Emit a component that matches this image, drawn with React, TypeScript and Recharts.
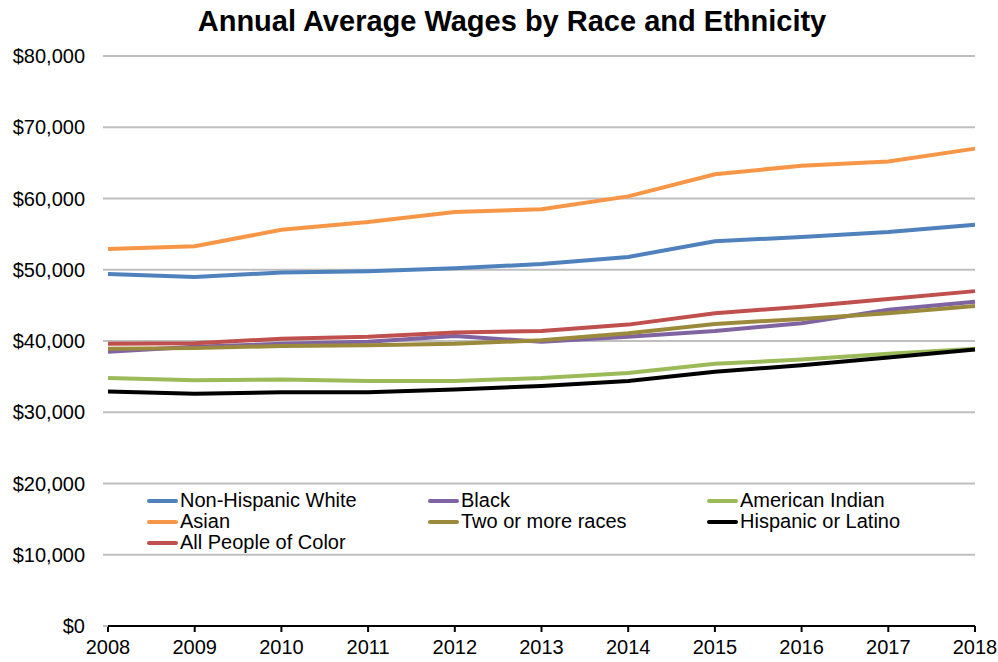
import { LineChart, Line, XAxis, YAxis, CartesianGrid } from 'recharts';

const years = [2008, 2009, 2010, 2011, 2012, 2013, 2014, 2015, 2016, 2017, 2018];

const nonHispanicWhite = [49400, 49000, 49600, 49800, 50200, 50800, 51800, 54000, 54600, 55300, 56300];
const black = [38500, 39200, 39600, 39900, 40700, 39900, 40600, 41400, 42500, 44400, 45500];
const americanIndian = [34800, 34500, 34600, 34400, 34400, 34800, 35500, 36800, 37400, 38200, 38900];
const asian = [52900, 53300, 55600, 56700, 58100, 58500, 60300, 63400, 64600, 65200, 67000];
const twoOrMore = [38900, 39000, 39300, 39400, 39600, 40100, 41100, 42400, 43100, 43900, 44900];
const hispanic = [32900, 32600, 32800, 32800, 33200, 33700, 34400, 35700, 36600, 37700, 38800];
const allPeopleOfColor = [39600, 39700, 40300, 40600, 41200, 41400, 42300, 43900, 44800, 45900, 47000];

const yTicks = [0, 10000, 20000, 30000, 40000, 50000, 60000, 70000, 80000];

const series = [
    { key: 'nhw', name: 'Non-Hispanic White', color: '#4F81BD', values: nonHispanicWhite },
    { key: 'black', name: 'Black', color: '#8064A2', values: black },
    { key: 'amind', name: 'American Indian', color: '#9BBB59', values: americanIndian },
    { key: 'asian', name: 'Asian', color: '#F79646', values: asian },
    { key: 'two', name: 'Two or more races', color: '#9C8A3C', values: twoOrMore },
    { key: 'hisp', name: 'Hispanic or Latino', color: '#000000', values: hispanic },
    { key: 'poc', name: 'All People of Color', color: '#C0504D', values: allPeopleOfColor },
];

const chartData = years.map((year, i) => {
    const row: any = { year };
    series.forEach((s) => {
        row[s.key] = s.values[i];
    });
    return row;
});

const FONT = '"Liberation Sans", Arial, sans-serif';

const formatDollar = (v: number) => (v === 0 ? '$0' : `$${v.toLocaleString('en-US')}`);

// legend sits inside the plot area, 3 columns like the Excel original
function ChartLegend() {
    const colWidths = [281, 279, 260];
    return (
        <div
            style={{
                position: 'absolute',
                top: 490,
                left: 147,
                display: 'grid',
                gridTemplateColumns: colWidths.map((w) => `${w}px`).join(' '),
                fontFamily: FONT,
                fontSize: 20,
                color: '#000',
            }}
        >
            {series.map((s) => (
                <div key={s.key} style={{ display: 'flex', alignItems: 'center', height: 21, whiteSpace: 'nowrap' }}>
                    <span
                        style={{
                            display: 'inline-block',
                            flexShrink: 0,
                            width: 31,
                            height: 4,
                            background: s.color,
                            borderRadius: 2,
                            marginRight: 2,
                        }}
                    />
                    <span>{s.name}</span>
                </div>
            ))}
        </div>
    );
}

export default function App() {
    return (
        <div style={{ position: 'absolute', left: 0, top: 0, width: 998, height: 662, background: '#fff' }}>
            <div
                style={{
                    position: 'absolute',
                    top: 5,
                    left: 0,
                    width: 1024,
                    textAlign: 'center',
                    fontFamily: FONT,
                    fontWeight: 'bold',
                    fontSize: 29,
                    color: '#000',
                }}
            >
                Annual Average Wages by Race and Ethnicity
            </div>
            <LineChart width={998} height={662} data={chartData} margin={{ top: 56, right: 23, bottom: 0, left: 0 }}>
                <CartesianGrid vertical={false} stroke="#BFBFBF" strokeWidth={2} />
                <XAxis
                    dataKey="year"
                    type="number"
                    domain={[2008, 2018]}
                    ticks={years}
                    height={36}
                    stroke="#000"
                    strokeWidth={2}
                    tickSize={6}
                    tickMargin={8}
                    tick={{ fill: '#000', fontSize: 20, fontFamily: FONT }}
                />
                <YAxis
                    width={108}
                    domain={[0, 80000]}
                    ticks={yTicks}
                    axisLine={false}
                    tickLine={{ stroke: '#BFBFBF', strokeWidth: 2 }}
                    tickSize={5}
                    tickMargin={18}
                    tickFormatter={formatDollar}
                    tick={{ fill: '#000', fontSize: 20, fontFamily: FONT }}
                />
                {series.map((s) => (
                    <Line
                        key={s.key}
                        type="linear"
                        dataKey={s.key}
                        name={s.name}
                        stroke={s.color}
                        strokeWidth={4}
                        dot={false}
                        activeDot={false}
                        isAnimationActive={false}
                    />
                ))}
            </LineChart>
            <ChartLegend />
        </div>
    );
}
